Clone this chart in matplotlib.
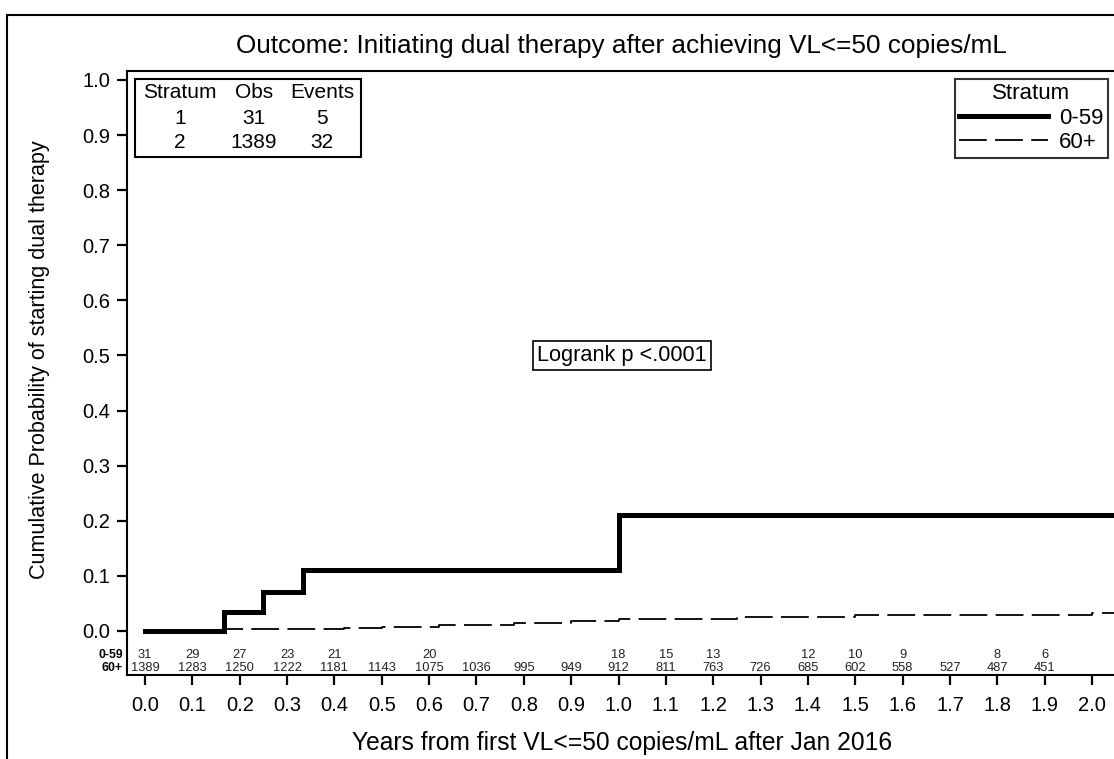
import numpy as np
import matplotlib
matplotlib.use('Agg')
import matplotlib.pyplot as plt
from matplotlib.patches import Rectangle

plt.rcParams['font.family'] = ['Liberation Sans', 'DejaVu Sans']
plt.rcParams['lines.scale_dashes'] = False

# KM cumulative probability, stratum 0-59
t_young = [0.0, 0.167, 0.25, 0.333, 1.0, 2.1]
p_young = [0.0, 0.035, 0.07, 0.11, 0.21, 0.21]
# stratum 60+
t_old = [0.0, 0.17, 0.42, 0.5, 0.62, 0.78, 0.9, 1.0, 1.25, 1.5, 2.0, 2.1]
p_old = [0.0, 0.004, 0.006, 0.008, 0.011, 0.015, 0.019, 0.022, 0.026, 0.029, 0.033, 0.033]

# numbers at risk at each 0.1 year tick
risk_times = [round(0.1 * i, 1) for i in range(20)]
risk_young = [31, 29, 27, 23, 21, None, 20, None, None, None, 18, 15, 13, None, 12, 10, 9, None, 8, 6]
risk_old = [1389, 1283, 1250, 1222, 1181, 1143, 1075, 1036, 995, 949, 912, 811, 763, 726, 685, 602, 558,
            527, 487, 451]
strata = ['0-59', '60+']

summary_header = ['Stratum', 'Obs', 'Events']
summary_rows = [['1', '31', '5'], ['2', '1389', '32']]

W, H = 1114, 759


def fx(px):
    return px / W


def fy(py):
    return 1 - py / H


fig = plt.figure(figsize=(W / 100, H / 100), dpi=100)
ax = fig.add_axes([fx(127), fy(675), fx(1130) - fx(127), fy(71) - fy(675)])

ax.step(t_young, p_young, where='post', color='black', lw=3.6, solid_joinstyle='miter', label=strata[0])
ax.step(t_old, p_old, where='post', color='black', lw=1.3, dashes=(20, 6), label=strata[1])

ax.set_xlim(-0.038, 2.08)
ax.set_ylim(-0.0799, 1.0163)
ax.set_xticks(np.arange(0, 2.01, 0.1))
ax.set_xticklabels([f'{v:.1f}' for v in np.arange(0, 2.01, 0.1)])
ax.set_yticks(np.arange(0, 1.01, 0.1))
ax.set_yticklabels([f'{v:.1f}' for v in np.arange(0, 1.01, 0.1)])
ax.tick_params(axis='both', direction='out', length=7.2, width=1.6, labelsize=14.5)
ax.tick_params(axis='x', pad=8)
ax.tick_params(axis='y', pad=5)
for s in ['left', 'bottom', 'top']:
    ax.spines[s].set_linewidth(1.5)
ax.spines['right'].set_visible(False)

# risk table
for t, n1, n2 in zip(risk_times, risk_young, risk_old):
    if n1 is not None:
        ax.text(t, -0.0436, str(n1), ha='center', va='center', fontsize=9.3, color='#222222')
    if n2 is not None:
        ax.text(t, -0.0672, str(n2), ha='center', va='center', fontsize=9.3, color='#222222')
fig.text(fx(123), fy(655), strata[0], ha='right', va='center', fontsize=8.8, fontweight='bold')
fig.text(fx(123), fy(668), strata[1], ha='right', va='center', fontsize=8.8, fontweight='bold')

ax.set_xlabel('Years from first VL<=50 copies/mL after Jan 2016', fontsize=17.7, va='center')
ax.xaxis.set_label_coords(fx(622), fy(743), transform=fig.transFigure)
ax.set_ylabel('Cumulative Probability of starting dual therapy', fontsize=15.5, va='center')
ax.yaxis.set_label_coords(fx(40), fy(360), transform=fig.transFigure)
fig.text(fx(621), fy(46), 'Outcome: Initiating dual therapy after achieving VL<=50 copies/mL',
         ha='center', va='center', fontsize=18.8)

# logrank box
ax.text(1.007, 0.5, 'Logrank p <.0001', ha='center', va='center', fontsize=15.7,
        bbox=dict(boxstyle='square,pad=0.2', fc='white', ec='black', lw=1.2))

# summary table
fig.patches.append(Rectangle((fx(135), fy(157)), fx(361) - fx(135), fy(79) - fy(157),
                             transform=fig.transFigure, fill=False, ec='black', lw=1.5))
col_x = [180, 254, 322]
for cx, h in zip(col_x, summary_header):
    fig.text(fx(cx), fy(92), h, ha='center', va='center', fontsize=15)
for r, row in enumerate(summary_rows):
    for cx, v in zip(col_x, row):
        fig.text(fx(cx), fy(118 + 25 * r), v, ha='center', va='center', fontsize=15)

# legend
leg = ax.legend(title='Stratum', loc='upper right', bbox_to_anchor=(fx(1108), fy(79)),
                bbox_transform=fig.transFigure, fontsize=16, title_fontsize=16,
                frameon=True, fancybox=False, edgecolor='black', handlelength=4.0,
                handletextpad=0.5, borderpad=0.2, labelspacing=0.15, borderaxespad=0)
leg.get_frame().set_linewidth(1.5)

# outer frame
fig.patches.append(Rectangle((fx(7), -0.1), 1.2, fy(15) + 0.1, transform=fig.transFigure,
                             fill=False, ec='black', lw=1.5))

fig.savefig('out.png', dpi=100)
